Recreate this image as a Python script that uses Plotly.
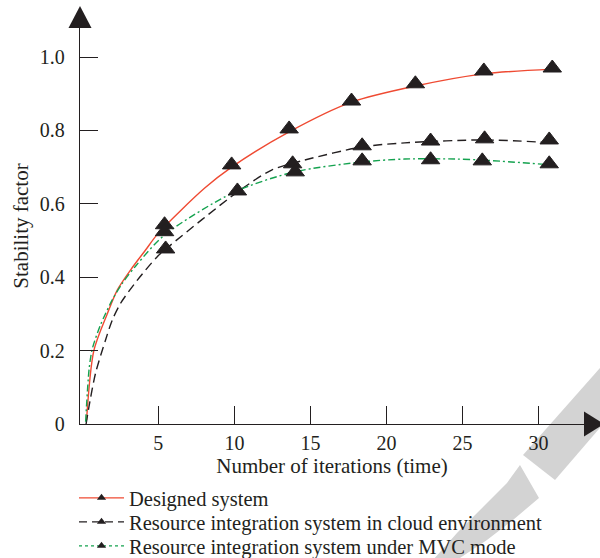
import plotly.graph_objects as go

# ---- data ----
names = ["Designed system",
         "Resource integration system in cloud environment",
         "Resource integration system under MVC mode"]

# fitted curves
red_curve_x = [0.28, 0.76, 1.64, 2.3, 3.18, 4.16, 5.0, 8.05, 9.82, 13.6, 17.7, 21.9, 26.4, 30.9]
red_curve_y = [0.011, 0.2, 0.30, 0.365, 0.42, 0.474, 0.52, 0.643, 0.70, 0.796, 0.877, 0.921, 0.954, 0.967]

blk_curve_x = [0.25, 0.44, 0.87, 1.53, 1.97, 2.52, 3.62, 4.93, 5.41, 10.2, 12.45, 14.6, 18.4, 21.2, 26.4, 31.05]
blk_curve_y = [0.0, 0.047, 0.138, 0.229, 0.283, 0.329, 0.392, 0.456, 0.474, 0.632, 0.692, 0.719, 0.755, 0.766, 0.774, 0.766]

grn_curve_x = [0.22, 0.45, 0.66, 1.2, 1.97, 2.63, 3.5, 5.41, 10.0, 13.96, 18.4, 21.2, 24.5, 26.4, 30.86]
grn_curve_y = [0.006, 0.15, 0.205, 0.27, 0.338, 0.383, 0.43, 0.515, 0.632, 0.687, 0.714, 0.722, 0.722, 0.719, 0.706]

# measured points
red_pts_x = [5.41, 9.82, 13.6, 17.7, 21.9, 26.4, 30.9]
red_pts_y = [0.543, 0.706, 0.804, 0.880, 0.927, 0.962, 0.970]
blk_pts_x = [5.48, 10.2, 13.83, 18.4, 22.9, 26.45, 30.7]
blk_pts_y = [0.477, 0.635, 0.709, 0.758, 0.771, 0.777, 0.774]
grn_pts_x = [5.41, 14.0, 18.4, 22.9, 26.3, 30.7]
grn_pts_y = [0.524, 0.687, 0.717, 0.720, 0.717, 0.709]

x_ticks = [5, 10, 15, 20, 25, 30]
y_ticks = [0, 0.2, 0.4, 0.6, 0.8, 1.0]
y_ticktext = ["0", "0.2", "0.4", "0.6", "0.8", "1.0"]

# ---- style ----
INK = "#231f20"
RED = "#ef4a32"
GRN = "#14a24f"
FONT = "Liberation Serif"
L, R_PX, T, B_PX = 80, 584, 28, 424  # plot-area pixel edges
W, H = 600, 558
XR = [-0.15, -0.15 + (R_PX - L) / 15.21]
YR = [0, (B_PX - T) / 367.0]

line_styles = [
    dict(color=RED, width=1.4, dash="solid"),
    dict(color=INK, width=1.4, dash="9px,5px"),
    dict(color=GRN, width=1.4, dash="7px,3px,2px,3px"),
]
legend_dash = ["solid", "8px,5px", "3px,3px"]
legend_ids = ["legend", "legend2", "legend3"]
legend_tops = [478, 502, 526]

fig = go.Figure()
curves = [(red_curve_x, red_curve_y), (blk_curve_x, blk_curve_y), (grn_curve_x, grn_curve_y)]
pts = [(red_pts_x, red_pts_y), (blk_pts_x, blk_pts_y), (grn_pts_x, grn_pts_y)]
for i in range(3):
    fig.add_trace(go.Scatter(x=curves[i][0], y=curves[i][1], mode="lines",
                             line=dict(**line_styles[i], shape="spline", smoothing=0.8),
                             showlegend=False, hoverinfo="skip"))
for i in range(3):
    fig.add_trace(go.Scatter(x=pts[i][0], y=pts[i][1], mode="markers",
                             marker=dict(symbol="triangle-up", size=16, color=INK,
                                         line=dict(color=INK, width=1)),
                             showlegend=False))
for i in range(3):
    st = dict(line_styles[i])
    st["dash"] = legend_dash[i]
    fig.add_trace(go.Scatter(x=[None], y=[None], mode="lines+markers", name=names[i],
                             line=st, legend=legend_ids[i],
                             marker=dict(symbol="triangle-up", size=8, color=INK)))

def px2paper(px, py):
    return (px - L) / (R_PX - L), (B_PX - py) / (B_PX - T)

def path(points):
    s = ""
    for k, (px, py) in enumerate(points):
        x, y = px2paper(px, py)
        s += ("M" if k == 0 else "L") + f"{x:.4f},{y:.4f} "
    return s + "Z"

shapes = []
# watermark pieces (light gray, behind everything)
wm1 = [(600, 368), (604, 368), (604, 423), (555, 480), (523, 455)]
wm2 = [(520, 465), (539, 498), (513, 520), (487, 540), (457, 560),
       (433, 560), (457, 533), (480, 510), (507, 483)]
for p in (wm1, wm2):
    shapes.append(dict(type="path", xref="paper", yref="paper", path=path(p),
                       fillcolor="#d3d3d3", line=dict(width=0), layer="below"))
# axis arrowheads (pixel-sized, anchored at axis ends)
shapes.append(dict(type="path", xref="paper", yref="paper", xsizemode="pixel", ysizemode="pixel",
                   xanchor=0, yanchor=1,
                   path="M-11.5,0 L11.5,0 L0,22 Z", fillcolor=INK, line=dict(width=0)))
shapes.append(dict(type="path", xref="paper", yref="paper", xsizemode="pixel", ysizemode="pixel",
                   xanchor=1, yanchor=0,
                   path="M0,-12.5 L0,12.5 L20,0 Z", fillcolor=INK, line=dict(width=0)))

legend_common = dict(xanchor="left", yanchor="top", bgcolor="rgba(0,0,0,0)",
                     font=dict(family=FONT, size=20.5, color=INK), itemwidth=45)
legends = {}
for lid, top in zip(legend_ids, legend_tops):
    legends[lid] = dict(x=(74 - L) / (R_PX - L), y=(B_PX - top) / (B_PX - T), **legend_common)

fig.update_layout(
    width=W, height=H,
    margin=dict(l=L, r=W - R_PX, t=T, b=H - B_PX, pad=0, autoexpand=False),
    paper_bgcolor="white", plot_bgcolor="white",
    font=dict(family=FONT, size=20, color=INK),
    shapes=shapes,
    showlegend=True,
    xaxis=dict(range=XR, showgrid=False, zeroline=False, showline=True,
               linecolor=INK, linewidth=1.4, ticks="inside", ticklen=18,
               tickwidth=1.3, tickcolor=INK, tickvals=x_ticks, automargin=False,
               tickfont=dict(family=FONT, size=20, color=INK), ticklabelstandoff=1,
               title=dict(text="Number of iterations (time)", standoff=4,
                          font=dict(family=FONT, size=21, color=INK))),
    yaxis=dict(range=YR, showgrid=False, zeroline=False, showline=True,
               linecolor=INK, linewidth=1.4, ticks="inside", ticklen=18,
               tickwidth=1.3, tickcolor=INK, tickvals=y_ticks, ticktext=y_ticktext,
               automargin=False,
               tickfont=dict(family=FONT, size=20, color=INK), ticklabelstandoff=10,
               title=dict(text="Stability factor", standoff=5,
                          font=dict(family=FONT, size=21, color=INK))),
    **legends,
)

fig.write_html("out.html", config={"displayModeBar": False},
               post_script="document.body.style.margin='0';")
